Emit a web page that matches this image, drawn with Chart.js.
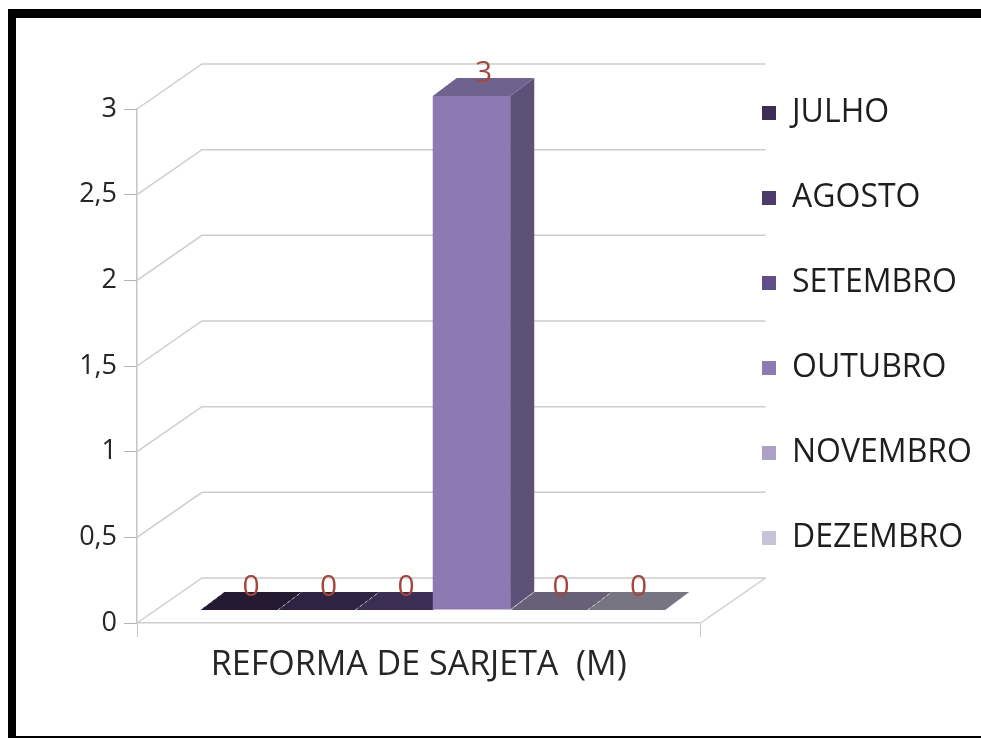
<!DOCTYPE html>
<html>
<head>
<meta charset="utf-8">
<script src="https://cdn.jsdelivr.net/npm/chart.js@4.4.1/dist/chart.umd.min.js"></script>
<style>
  html, body { margin: 0; padding: 0; background: #fff; }
  #wrap { position: relative; width: 981px; height: 738px; overflow: hidden; }
  #frame { position: absolute; left: 8px; top: 9px; width: 1000px; height: 729px; box-sizing: border-box;
           border-top: 9px solid #000; border-left: 8px solid #000; border-bottom: 2px solid #000; }
  canvas { position: absolute; left: 0; top: 0; }
</style>
</head>
<body>
<div id="wrap">
  <div id="frame"></div>
  <canvas id="chart" width="981" height="738"></canvas>
</div>
<script>
// data
const categories = ['REFORMA DE SARJETA  (M)'];
const months = ['JULHO', 'AGOSTO', 'SETEMBRO', 'OUTUBRO', 'NOVEMBRO', 'DEZEMBRO'];
const monthValues = [[0], [0], [0], [3], [0], [0]];
const monthColors = ['#3c2d55', '#4d3b6c', '#614d88', '#8c7ab3', '#aba1c6', '#c8c3d8'];
const yTicks = [0, 0.5, 1, 1.5, 2, 2.5, 3];

// fake 3d look
const wall = { dx: 65, dy: -45 };   // back wall offset from the axis plane
const shift = { dx: 14, dy: -13 };  // bars sit a bit behind the front plane
const depth = { dx: 24, dy: -18 };  // depth of each bar

function shade(hex, f) {
    let n = parseInt(hex.slice(1), 16);
    let r = Math.min(255, Math.round(((n >> 16) & 255) * f));
    let g = Math.min(255, Math.round(((n >> 8) & 255) * f));
    let b = Math.min(255, Math.round((n & 255) * f));
    return `rgb(${r},${g},${b})`;
}

function face(ctx, pts, color) {
    ctx.beginPath();
    ctx.moveTo(pts[0][0], pts[0][1]);
    for (let k = 1; k < pts.length; k++) ctx.lineTo(pts[k][0], pts[k][1]);
    ctx.closePath();
    ctx.fillStyle = color;
    ctx.fill();
}

const box3d = {
    id: 'box3d',
    afterLayout(chart) {
        // nudge the legend so it lines up with the picture (and is not clipped)
        let lg = chart.legend;
        let h = lg.bottom - lg.top;
        lg.left = 709;
        lg.right = chart.width;
        lg.width = lg.right - lg.left;
        lg.top = 44;
        lg.bottom = lg.top + h;
    },
    beforeDatasetsDraw(chart) {
        let ctx = chart.ctx, a = chart.chartArea, y = chart.scales.y;
        ctx.save();
        ctx.strokeStyle = '#cdcdcd';
        ctx.lineWidth = 1.5;
        yTicks.forEach(v => {
            let py = y.getPixelForValue(v);
            ctx.beginPath();
            ctx.moveTo(a.left, py);
            ctx.lineTo(a.left + wall.dx, py + wall.dy);
            ctx.lineTo(a.right + wall.dx, py + wall.dy);
            ctx.stroke();
        });
        ctx.beginPath();
        ctx.moveTo(a.right, a.bottom);
        ctx.lineTo(a.right + wall.dx, a.bottom + wall.dy);
        ctx.stroke();

        // zero bars are just flat slabs on the floor
        chart.data.datasets.forEach((ds, i) => {
            chart.getDatasetMeta(i).data.forEach((bar, j) => {
                if (ds.data[j] !== 0) return;
                let l = bar.x - bar.width / 2 + shift.dx, r = l + bar.width;
                let t = bar.base + shift.dy;
                face(ctx, [[l, t], [r, t], [r + depth.dx, t + depth.dy], [l + depth.dx, t + depth.dy]],
                    shade(ds.backgroundColor, 0.6));
                ctx.strokeStyle = 'rgba(255,255,255,0.6)';
                ctx.lineWidth = 1;
                ctx.setLineDash([3, 3]);
                ctx.beginPath();
                ctx.moveTo(l, t);
                ctx.lineTo(l + depth.dx, t + depth.dy);
                ctx.stroke();
                ctx.setLineDash([]);
            });
        });
        ctx.restore();

        ctx.save();
        ctx.translate(shift.dx, shift.dy);
    },
    afterDatasetsDraw(chart) {
        let ctx = chart.ctx;
        ctx.restore();
        ctx.save();
        chart.data.datasets.forEach((ds, i) => {
            chart.getDatasetMeta(i).data.forEach((bar, j) => {
                if (!ds.data[j]) return;
                let l = bar.x - bar.width / 2 + shift.dx, r = l + bar.width;
                let t = bar.y + shift.dy, b = bar.base + shift.dy;
                face(ctx, [[r, t], [r + depth.dx, t + depth.dy], [r + depth.dx, b + depth.dy], [r, b]],
                    shade(ds.backgroundColor, 0.66));
                face(ctx, [[l, t], [r, t], [r + depth.dx, t + depth.dy], [l + depth.dx, t + depth.dy]],
                    shade(ds.backgroundColor, 0.8));
            });
        });
        // value labels
        ctx.font = "30px 'Open Sans'";
        ctx.fillStyle = '#a3463d';
        ctx.textAlign = 'center';
        ctx.textBaseline = 'alphabetic';
        chart.data.datasets.forEach((ds, i) => {
            chart.getDatasetMeta(i).data.forEach((bar, j) => {
                let cx = bar.x + shift.dx + depth.dx / 2;
                let cy = bar.y + shift.dy + depth.dy / 2 - 5;
                ctx.fillText(String(ds.data[j]).replace('.', ','), cx, cy);
            });
        });
        ctx.restore();
    }
};

Chart.defaults.font.family = "'Open Sans', sans-serif";
Chart.defaults.color = '#262626';

let chart = new Chart(document.getElementById('chart'), {
    type: 'bar',
    data: {
        labels: categories,
        datasets: months.map((m, i) => ({
            label: m,
            data: monthValues[i],
            backgroundColor: monthColors[i],
            borderWidth: 0,
            barPercentage: 1,
            categoryPercentage: 0.825,
            clip: false
        }))
    },
    options: {
        responsive: false,
        animation: false,
        events: [],
        layout: { padding: { top: 109, right: 47, bottom: 0, left: 0 } },
        plugins: {
            tooltip: { enabled: false },
            legend: {
                position: 'right',
                align: 'start',
                labels: {
                    boxWidth: 14,
                    boxHeight: 14,
                    padding: 53,
                    color: '#1e1e1e',
                    font: { size: 32 }
                }
            }
        },
        scales: {
            x: {
                afterFit: s => { s.height = 115; },
                grid: { drawOnChartArea: false, drawTicks: true, tickLength: 14, color: '#c4c4c4', offset: true },
                border: { color: '#cdcdcd', width: 1.5 },
                ticks: { padding: 8, font: { size: 34 }, color: '#262626' }
            },
            y: {
                min: 0,
                max: 3,
                afterFit: s => { s.width = 137; },
                afterBuildTicks: s => { s.ticks = yTicks.map(v => ({ value: v })); },
                grid: { drawOnChartArea: false, drawTicks: true, tickLength: 13, color: '#b4b4b4' },
                border: { color: '#c4c4c4', width: 1.5 },
                ticks: {
                    padding: 7,
                    font: { size: 27 },
                    color: '#262626',
                    callback: v => String(v).replace('.', ',')
                }
            }
        }
    },
    plugins: [box3d]
});
</script>
</body>
</html>
